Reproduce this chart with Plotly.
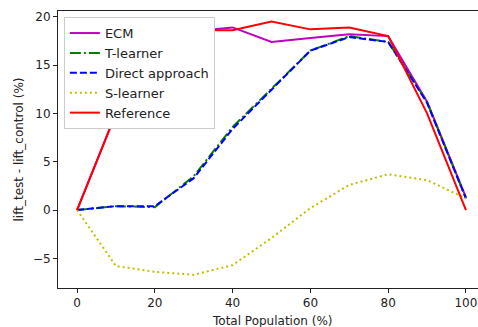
import plotly.graph_objects as go

# Share of the population targeted (%)
population = [0, 10, 20, 30, 40, 50, 60, 70, 80, 90, 100]

# Uplift curves: lift_test - lift_control (%)
ecm = [0, 10.0, 18.3, 18.5, 18.9, 17.4, 17.8, 18.2, 18.0, 11.2, 1.3]
t_learner = [0, 0.4, 0.3, 3.5, 8.6, 12.6, 16.5, 18.0, 17.4, 11.2, 1.2]
direct = [0, 0.4, 0.4, 3.3, 8.4, 12.5, 16.5, 17.9, 17.4, 11.1, 1.2]
s_learner = [0, -5.8, -6.4, -6.7, -5.7, -2.9, 0.2, 2.6, 3.7, 3.1, 1.2]
reference = [0, 10.0, 18.5, 18.6, 18.6, 19.5, 18.7, 18.9, 18.0, 10.0, 0]

x_ticks = [0, 20, 40, 60, 80, 100]
y_ticks = [-5, 0, 5, 10, 15, 20]

series = [
    ("ECM", ecm, "#bf00bf", "solid"),
    ("T-learner", t_learner, "#008000", "11px,3px,2px,3px"),
    ("Direct approach", direct, "#0000ff", "7px,3px"),
    ("S-learner", s_learner, "#bfbf00", "2px,3px"),
    ("Reference", reference, "#ff0000", "solid"),
]

fig = go.Figure()
for name, vals, color, dash in series:
    fig.add_trace(go.Scatter(
        x=population, y=vals, name=name, mode="lines",
        line=dict(color=color, width=2, dash=dash),
    ))

axis_font = dict(family="DejaVu Sans", size=12, color="#222222")
fig.update_layout(
    width=478, height=327,
    margin=dict(l=58, r=0, t=11, b=39),
    paper_bgcolor="white", plot_bgcolor="white",
    showlegend=True,
    legend=dict(
        x=0.014, y=0.978, xanchor="left", yanchor="top",
        bgcolor="white", bordercolor="#cccccc", borderwidth=1,
        font=dict(family="DejaVu Sans", size=13, color="#222222"),
        tracegroupgap=0, itemwidth=30,
    ),
    xaxis=dict(
        range=[-4.9, 103.1], tickvals=x_ticks, showgrid=False, zeroline=False,
        showline=True, linecolor="#222222", linewidth=1, mirror=True,
        ticks="outside", ticklen=4, tickcolor="#222222", tickfont=axis_font,
    ),
    yaxis=dict(
        range=[-8.07, 20.6], tickvals=y_ticks, showgrid=False, zeroline=False,
        showline=True, linecolor="#222222", linewidth=1,
        ticks="outside", ticklen=4, tickcolor="#222222", tickfont=axis_font,
        title=dict(text="lift_test - lift_control (%)", font=axis_font, standoff=6),
    ),
    annotations=[dict(
        text="Total Population (%)", xref="paper", yref="paper",
        x=(272 - 58) / 420, y=-0.085, xanchor="center", yanchor="top",
        showarrow=False, font=axis_font,
    )],
)

fig.write_html("out.html")
